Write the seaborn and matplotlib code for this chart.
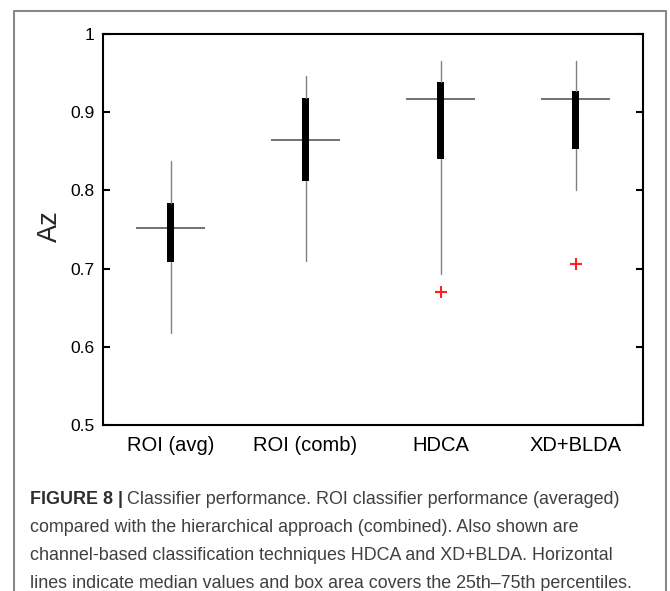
import numpy as np
import matplotlib.pyplot as plt
from matplotlib.lines import Line2D
import seaborn as sns

# box statistics
methods = ['ROI (avg)', 'ROI (comb)', 'HDCA', 'XD+BLDA']
whisker_low = [0.618, 0.710, 0.693, 0.800]
q1 = [0.709, 0.812, 0.840, 0.853]
medians = [0.752, 0.864, 0.917, 0.917]
q3 = [0.784, 0.918, 0.938, 0.927]
whisker_high = [0.838, 0.946, 0.965, 0.965]

outlier_method = ['HDCA', 'XD+BLDA']
outlier_az = [0.670, 0.706]

yticks = [0.5, 0.6, 0.7, 0.8, 0.9, 1.0]
ytick_labels = ['0.5', '0.6', '0.7', '0.8', '0.9', '1']

caption_lines = [
    'Classifier performance. ROI classifier performance (averaged)',
    'compared with the hierarchical approach (combined). Also shown are',
    'channel-based classification techniques HDCA and XD+BLDA. Horizontal',
    'lines indicate median values and box area covers the 25th\u201375th percentiles.',
]

sns.set_style('ticks')
plt.rcParams['font.family'] = ['Liberation Sans', 'DejaVu Sans']

fig = plt.figure(figsize=(6.7, 5.91), dpi=100)
ax = fig.add_axes([103 / 670, 1 - 425 / 591, 540 / 670, 391 / 591])

pos = np.arange(len(methods))
stats = []
for m, lo, a, md, b, hi in zip(methods, whisker_low, q1, medians, q3, whisker_high):
    stats.append(dict(label=m, whislo=lo, q1=a, med=md, q3=b, whishi=hi, fliers=[]))

ax.bxp(stats, positions=pos, widths=0.05, patch_artist=True, showcaps=False,
       boxprops=dict(facecolor='black', edgecolor='black', linewidth=0),
       whiskerprops=dict(color='#808080', linewidth=1.0),
       medianprops=dict(linewidth=0), zorder=3)
ax.hlines(medians, pos - 0.252, pos + 0.252, color='#666666', linewidth=1.3, zorder=2)

sns.scatterplot(x=[methods.index(m) for m in outlier_method], y=outlier_az,
                marker='+', color='#ff2020', s=70, linewidth=1.5, ax=ax, zorder=4)

ax.set_xlim(-0.5, 3.5)
ax.set_ylim(0.5, 1.0)
ax.set_yticks(yticks)
ax.set_yticklabels(ytick_labels)
ax.set_xticks(pos)
ax.set_xticklabels(methods)
ax.tick_params(axis='y', direction='in', left=True, right=True, length=5, width=1.5,
               labelsize=12.5, pad=6, colors='black')
ax.tick_params(axis='x', length=0, labelsize=14.5, pad=8, colors='black')
for s in ax.spines.values():
    s.set_visible(True)
    s.set_color('black')
    s.set_linewidth(1.5)

fig.text(50 / 670, 1 - 226 / 591, 'Az', rotation=90, fontsize=19.5, ha='center', va='center')

# outer frame of the figure panel
fx0, fx1, fy = 14 / 670, 666 / 670, 1 - 11 / 591
for xs, ys in [([fx0, fx1], [fy, fy]), ([fx0, fx0], [fy, 0]), ([fx1, fx1], [fy, 0])]:
    fig.add_artist(Line2D(xs, ys, color='#888888', linewidth=1.5, transform=fig.transFigure))

# caption: pick a size so the last line spans the same width as in the figure
fig.canvas.draw()
renderer = fig.canvas.get_renderer()
probe = fig.text(0, 0, caption_lines[3], fontsize=10)
cap_size = 10 * 605 / probe.get_window_extent(renderer).width
probe.remove()

cap_x = 30 / 670
cap_y = [497, 525, 553, 581]
head = fig.text(cap_x, 1 - cap_y[0] / 591, 'FIGURE 8 |', fontsize=cap_size, fontweight='bold',
                color='#2e2e2e', va='center_baseline')
bb = head.get_window_extent(renderer)
fig.text(bb.x1 / fig.bbox.width + 4 / 670, 1 - cap_y[0] / 591, caption_lines[0], fontsize=cap_size,
         color='#404040', va='center_baseline')
for line, y in zip(caption_lines[1:], cap_y[1:]):
    fig.text(cap_x, 1 - y / 591, line, fontsize=cap_size, color='#404040', va='center_baseline')

fig.savefig('out.png', dpi=100)
